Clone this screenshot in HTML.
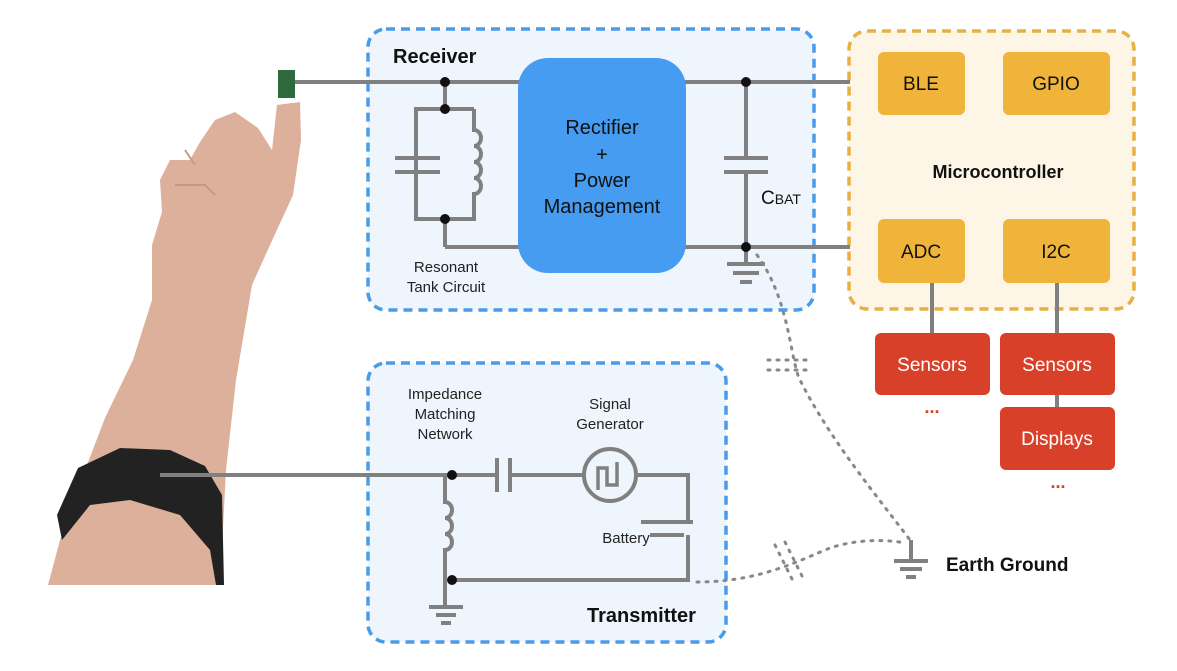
<!DOCTYPE html>
<html><head><meta charset="utf-8"><style>
html,body{margin:0;padding:0;background:#fff;}
svg{display:block;font-family:"Liberation Sans",sans-serif;}
</style></head><body>
<svg width="1177" height="671" viewBox="0 0 1177 671" xmlns="http://www.w3.org/2000/svg">
<rect width="1177" height="671" fill="#fff"/>
<!-- arm -->
<path d="M277,105 L300,102 L301,140 L293,195 L270,245 L252,285 L236,380 L226,470 L220,585 L48,585 L60,540 L82,478 L105,418 L133,360 L152,300 L152,245 L162,212 L160,180 L170,160 L190,160 L200,142 L215,120 L235,112 L258,128 L272,150 Z" fill="#dcb09a"/>
<path d="M175,185 L205,185 L215,195 M185,150 L195,165" stroke="#c89880" stroke-width="2" fill="none"/>
<path d="M57,515 L78,468 L120,448 L170,450 L205,466 L222,495 L224,585 L216,585 L210,550 L180,515 L130,500 L90,505 L62,540 Z" fill="#222"/>
<rect x="278" y="70" width="17" height="28" fill="#2f6a3e"/>
<!-- receiver box -->
<rect x="368" y="29" width="446" height="281" rx="18" fill="#eef5fc" stroke="#4a9be8" stroke-width="3.5" stroke-dasharray="9,6"/>
<!-- transmitter box -->
<rect x="368" y="363" width="358" height="279" rx="18" fill="#eef5fc" stroke="#4a9be8" stroke-width="3.5" stroke-dasharray="9,6"/>
<!-- micro box -->
<rect x="849" y="31" width="285" height="278" rx="18" fill="#fdf5e6" stroke="#e8b040" stroke-width="3.5" stroke-dasharray="9,6"/>
<g stroke="#808080" stroke-width="4" fill="none">
<line x1="295" y1="82" x2="850" y2="82"/>
<line x1="445" y1="247" x2="850" y2="247"/>
<line x1="445" y1="82" x2="445" y2="109"/>
<polyline points="445,219 445,247"/>
<path d="M474,109 L416,109 L416,219 L474,219 L474,195"/>
<path d="M474,109 L474,130 a7,8 0 0 1 0,16 a7,8 0 0 1 0,16 a7,8 0 0 1 0,16 a7,8 0 0 1 0,16 L474,195"/>
<line x1="395" y1="158" x2="440" y2="158"/>
<line x1="395" y1="172" x2="440" y2="172"/>
<line x1="746" y1="82" x2="746" y2="158"/>
<line x1="746" y1="172" x2="746" y2="262"/>
<line x1="724" y1="158" x2="768" y2="158"/>
<line x1="724" y1="172" x2="768" y2="172"/>
<line x1="733" y1="273" x2="759" y2="273"/>
<line x1="740" y1="282" x2="752" y2="282"/>
<line x1="727" y1="264" x2="765" y2="264"/>
<line x1="932" y1="283" x2="932" y2="333"/>
<line x1="1057" y1="283" x2="1057" y2="333"/>
<line x1="1057" y1="395" x2="1057" y2="407"/>
<!-- transmitter -->
<line x1="160" y1="475" x2="497" y2="475"/>
<line x1="510" y1="475" x2="583" y2="475"/>
<line x1="497" y1="458" x2="497" y2="492"/>
<line x1="510" y1="458" x2="510" y2="492"/>
<circle cx="610" cy="475" r="26"/>
<path d="M598,490 L598,468 L607,468 L607,485 L617,485 L617,462" stroke-width="3.5"/>
<path d="M636,475 L688,475 L688,522"/>
<line x1="641" y1="522" x2="693" y2="522"/>
<line x1="650" y1="535" x2="684" y2="535"/>
<path d="M688,535 L688,580 L452,580"/>
<path d="M445,475 L445,502 a7,8 0 0 1 0,16 a7,8 0 0 1 0,16 a7,8 0 0 1 0,16 L445,556 L445,607" />
<line x1="429" y1="607" x2="463" y2="607"/>
<line x1="436" y1="615" x2="456" y2="615"/>
<line x1="441" y1="623" x2="451" y2="623"/>
<!-- earth ground -->
<line x1="911" y1="540" x2="911" y2="560"/>
<line x1="894" y1="561" x2="928" y2="561"/>
<line x1="900" y1="569" x2="922" y2="569"/>
<line x1="906" y1="577" x2="916" y2="577"/>
</g>
<g stroke="#888" stroke-width="3" fill="none" stroke-dasharray="2,7" stroke-linecap="round">
<path d="M757,255 C790,300 790,360 800,380 C830,440 880,500 910,540"/>
<path d="M697,582 C760,582 800,560 830,548 C860,538 890,540 905,543"/>
<line x1="768" y1="360" x2="810" y2="360"/>
<line x1="768" y1="370" x2="810" y2="370"/>
<line x1="775" y1="545" x2="795" y2="585"/>
<line x1="785" y1="542" x2="805" y2="582"/>
</g>
<g fill="#111">
<circle cx="445" cy="82" r="5"/><circle cx="445" cy="109" r="5"/><circle cx="445" cy="219" r="5"/>
<circle cx="746" cy="82" r="5"/><circle cx="746" cy="247" r="5"/>
<circle cx="452" cy="475" r="5"/><circle cx="452" cy="580" r="5"/>
</g>
<rect x="518" y="58" width="168" height="215" rx="30" fill="#469cf0"/>
<g font-size="20" fill="#111" text-anchor="middle">
<text x="602" y="134">Rectifier</text>
<text x="602" y="161">+</text>
<text x="602" y="187">Power</text>
<text x="602" y="213">Management</text>
</g>
<text x="393" y="63" font-size="20" font-weight="bold" fill="#111">Receiver</text>
<text x="587" y="622" font-size="20" font-weight="bold" fill="#111">Transmitter</text>
<text x="998" y="178" font-size="18" font-weight="bold" fill="#111" text-anchor="middle">Microcontroller</text>
<text x="946" y="571" font-size="19" font-weight="bold" fill="#111">Earth Ground</text>
<g font-size="15" fill="#222" text-anchor="middle">
<text x="446" y="272">Resonant</text><text x="446" y="292">Tank Circuit</text>
<text x="445" y="399">Impedance</text><text x="445" y="419">Matching</text><text x="445" y="439">Network</text>
<text x="610" y="409">Signal</text><text x="610" y="429">Generator</text>
<text x="626" y="543">Battery</text>
</g>
<text x="761" y="204" font-size="19" fill="#111">C<tspan font-size="14">BAT</tspan></text>
<g fill="#f0b43a">
<rect x="878" y="52" width="87" height="63" rx="6"/><rect x="1003" y="52" width="107" height="63" rx="6"/>
<rect x="878" y="219" width="87" height="64" rx="6"/><rect x="1003" y="219" width="107" height="64" rx="6"/>
</g>
<g font-size="19" fill="#111" text-anchor="middle">
<text x="921" y="90">BLE</text><text x="1056" y="90">GPIO</text>
<text x="921" y="258">ADC</text><text x="1056" y="258">I2C</text>
</g>
<g fill="#d9402a">
<rect x="875" y="333" width="115" height="62" rx="6"/><rect x="1000" y="333" width="115" height="62" rx="6"/>
<rect x="1000" y="407" width="115" height="63" rx="6"/>
</g>
<g font-size="19" fill="#fff" text-anchor="middle">
<text x="932" y="371">Sensors</text><text x="1057" y="371">Sensors</text><text x="1057" y="445">Displays</text>
</g>
<g font-size="18" fill="#d9402a" font-weight="bold" text-anchor="middle">
<text x="932" y="413">...</text><text x="1058" y="488">...</text>
</g>
</svg>
</body></html>
